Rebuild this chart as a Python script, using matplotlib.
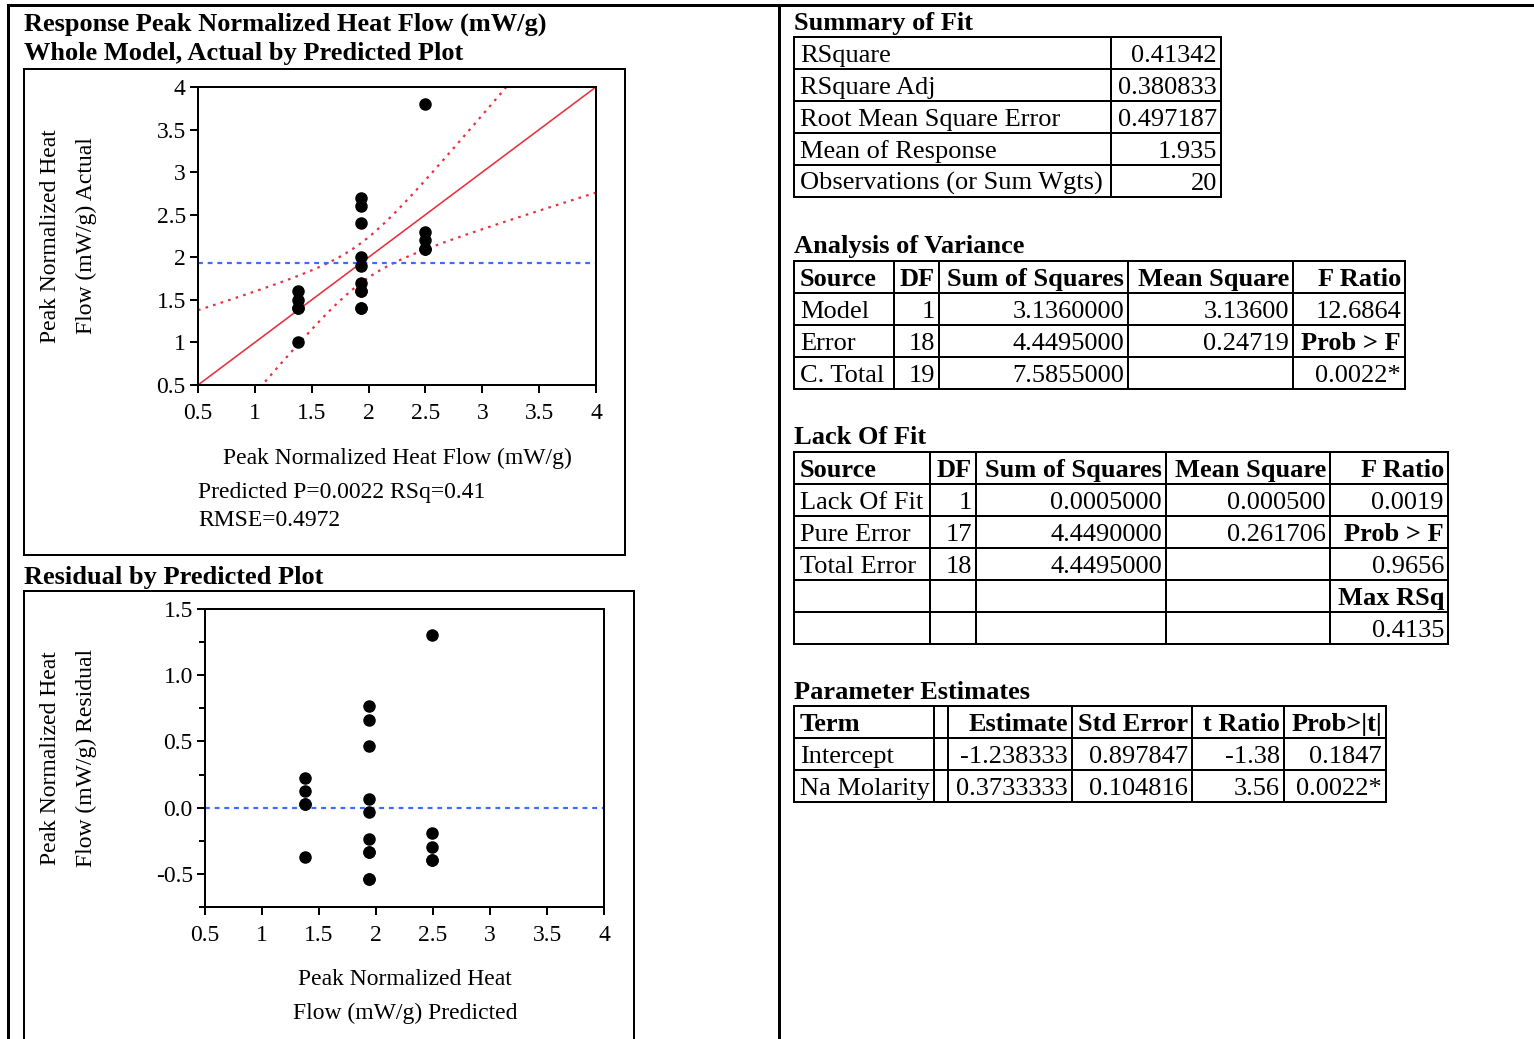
import numpy as np
import matplotlib
matplotlib.use("Agg")
import matplotlib.pyplot as plt
from matplotlib.ticker import FixedLocator, FixedFormatter

W, H = 1534, 1039
DPI = 100

plt.rcParams["font.family"] = ["Liberation Serif", "DejaVu Serif"]

# ---------------- data ----------------
na_molarity = [7, 7, 7, 7, 7,
               8.5, 8.5, 8.5, 8.5, 8.5, 8.5, 8.5, 8.5, 8.5, 8.5,
               10, 10, 10, 10, 10]
heat_flow = [1.6, 1.5, 1.4, 1.4, 1.0,
             2.7, 2.6, 2.4, 2.0, 1.9, 1.7, 1.6, 1.6, 1.4, 1.4,
             3.8, 2.3, 2.2, 2.1, 2.1]

intercept = -1.238333
slope = 0.3733333
rmse = 0.497187
mean_response = 1.935
n_obs = 20
ss_model = 3.136
t_crit = 2.100922  # t(0.975, 18)

axis_ticks = [0.5, 1, 1.5, 2, 2.5, 3, 3.5, 4]
axis_tick_labels = ["0.5", "1", "1.5", "2", "2.5", "3", "3.5", "4"]
resid_ticks = [-0.5, 0.0, 0.5, 1.0, 1.5]
resid_tick_labels = ["-0.5", "0.0", "0.5", "1.0", "1.5"]
resid_minor = [-0.75, -0.25, 0.25, 0.75, 1.25]

summary_rows = [
    ["RSquare", "0.41342"],
    ["RSquare Adj", "0.380833"],
    ["Root Mean Square Error", "0.497187"],
    ["Mean of Response", "1.935"],
    ["Observations (or Sum Wgts)", "20"],
]
anova_header = ["Source", "DF", "Sum of Squares", "Mean Square", "F Ratio"]
anova_rows = [
    ["Model", "1", "3.1360000", "3.13600", "12.6864"],
    ["Error", "18", "4.4495000", "0.24719", "Prob > F"],
    ["C. Total", "19", "7.5855000", "", "0.0022*"],
]
lof_header = ["Source", "DF", "Sum of Squares", "Mean Square", "F Ratio"]
lof_rows = [
    ["Lack Of Fit", "1", "0.0005000", "0.000500", "0.0019"],
    ["Pure Error", "17", "4.4490000", "0.261706", "Prob > F"],
    ["Total Error", "18", "4.4495000", "", "0.9656"],
    ["", "", "", "", "Max RSq"],
    ["", "", "", "", "0.4135"],
]
param_header = ["Term", "", "Estimate", "Std Error", "t Ratio", "Prob>|t|"]
param_rows = [
    ["Intercept", "", "-1.238333", "0.897847", "-1.38", "0.1847"],
    ["Na Molarity", "", "0.3733333", "0.104816", "3.56", "0.0022*"],
]
bold_cells = {"Prob > F", "Max RSq"}

# ---------------- figure ----------------
fig = plt.figure(figsize=(W / DPI, H / DPI), dpi=DPI)
bg = fig.add_axes([0, 0, 1, 1])
bg.set_xlim(0, W)
bg.set_ylim(H, 0)
bg.axis("off")

PX = 72.0 / DPI  # points per pixel
TXT = 17
TAB = 19


def hline(x0, x1, y, lw=2):
    bg.plot([x0, x1], [y, y], color="black", lw=lw * PX, solid_capstyle="projecting")


def vline(x, y0, y1, lw=2):
    bg.plot([x, x], [y0, y1], color="black", lw=lw * PX, solid_capstyle="projecting")


def box(x0, y0, x1, y1, lw=2):
    hline(x0, x1, y0, lw)
    hline(x0, x1, y1, lw)
    vline(x0, y0, y1, lw)
    vline(x1, y0, y1, lw)


def px_axes(left, top, right, bottom):
    return fig.add_axes([left / W, 1 - bottom / H, (right - left) / W, (bottom - top) / H])


# page frame
hline(8, W, 5, lw=3)
vline(8, 5, H, lw=3)
vline(779, 5, H, lw=3)

# ---------------- left column: plots ----------------
bg.text(24, 31, "Response Peak Normalized Heat Flow (mW/g)", fontsize=TAB,
        fontweight="bold", ha="left", va="baseline")
bg.text(24, 60, "Whole Model, Actual by Predicted Plot", fontsize=TAB,
        fontweight="bold", ha="left", va="baseline")
box(24, 69, 625, 555)

x = np.array(na_molarity, dtype=float)
y = np.array(heat_flow, dtype=float)
predicted = intercept + slope * x
residual = y - predicted

red = "#e8303f"
blue = "#3a6cff"


def style_axes(ax, xticks, xlabels, yticks, ylabels, yminor=None):
    for s in ax.spines.values():
        s.set_linewidth(2 * PX * 1.0)
        s.set_color("black")
    ax.xaxis.set_major_locator(FixedLocator(xticks))
    ax.xaxis.set_major_formatter(FixedFormatter(xlabels))
    ax.yaxis.set_major_locator(FixedLocator(yticks))
    ax.yaxis.set_major_formatter(FixedFormatter(ylabels))
    if yminor is not None:
        ax.yaxis.set_minor_locator(FixedLocator(yminor))
        ax.tick_params(axis="y", which="minor", length=6 * PX, width=2 * PX, direction="out")
    ax.tick_params(axis="both", which="major", length=8 * PX, width=2 * PX,
                   direction="out", labelsize=TXT)
    ax.tick_params(axis="x", pad=7)
    ax.tick_params(axis="y", pad=3)
    ax.set_facecolor("none")


# Actual by predicted
ax1 = px_axes(198, 87, 596, 385)
ax1.set_xlim(0.5, 4)
ax1.set_ylim(0.5, 4)
p = np.linspace(0.5, 4, 300)
half = t_crit * rmse * np.sqrt(1.0 / n_obs + (p - mean_response) ** 2 / ss_model)
ax1.plot(p, p, color=red, lw=1.6 * PX * 1.0, zorder=2)
ax1.plot(p, p + half, color=red, lw=2.2 * PX, ls=(0, (1.2, 2.4)), zorder=2)
ax1.plot(p, p - half, color=red, lw=2.2 * PX, ls=(0, (1.2, 2.4)), zorder=2)
ax1.axhline(mean_response, color=blue, lw=2.2 * PX, ls=(0, (2.2, 2.2)), zorder=2)
ax1.plot(predicted, y, "o", color="black", ms=8, zorder=3)
style_axes(ax1, axis_ticks, axis_tick_labels, axis_ticks, axis_tick_labels)

bg.text(51, 236, "Peak Normalized Heat", fontsize=TXT, rotation=90, ha="center", va="center")
bg.text(86, 236, "Flow (mW/g) Actual", fontsize=TXT, rotation=90, ha="center", va="center")
bg.text(397, 464, "Peak Normalized Heat Flow (mW/g)", fontsize=TXT, ha="center", va="baseline")
bg.text(198, 498, "Predicted P=0.0022 RSq=0.41", fontsize=TXT, ha="left", va="baseline")
bg.text(198, 526, "RMSE=0.4972", fontsize=TXT, ha="left", va="baseline")

# Residual by predicted
bg.text(24, 584, "Residual by Predicted Plot", fontsize=TAB, fontweight="bold",
        ha="left", va="baseline")
box(24, 591, 634, H + 10)

ax2 = px_axes(205, 609, 604, 907)
ax2.set_xlim(0.5, 4)
ax2.set_ylim(-0.75, 1.5)
ax2.axhline(0, color=blue, lw=2.2 * PX, ls=(0, (2.2, 2.2)), zorder=2)
ax2.plot(predicted, residual, "o", color="black", ms=8, zorder=3)
style_axes(ax2, axis_ticks, axis_tick_labels, resid_ticks, resid_tick_labels, resid_minor)

bg.text(51, 758, "Peak Normalized Heat", fontsize=TXT, rotation=90, ha="center", va="center")
bg.text(86, 758, "Flow (mW/g) Residual", fontsize=TXT, rotation=90, ha="center", va="center")
bg.text(405, 985, "Peak Normalized Heat", fontsize=TXT, ha="center", va="baseline")
bg.text(405, 1019, "Flow (mW/g) Predicted", fontsize=TXT, ha="center", va="baseline")

# ---------------- right column: tables ----------------
ROW_H = 32


def draw_table(x_edges, top, rows, header=None):
    all_rows = ([header] if header is not None else []) + rows
    n = len(all_rows)
    bottom = top + n * ROW_H
    for i in range(n + 1):
        hline(x_edges[0], x_edges[-1], top + i * ROW_H)
    for xe in x_edges:
        vline(xe, top, bottom)
    for i, row in enumerate(all_rows):
        base = top + (i + 0.5) * ROW_H + 9
        is_header = header is not None and i == 0
        for j, cell in enumerate(row):
            if not cell:
                continue
            weight = "bold" if (is_header or cell in bold_cells) else "normal"
            if j == 0:
                bg.text(x_edges[0] + 6, base, cell, fontsize=TAB, fontweight=weight,
                        ha="left", va="baseline")
            else:
                bg.text(x_edges[j + 1] - 4, base, cell, fontsize=TAB, fontweight=weight,
                        ha="right", va="baseline")


bg.text(794, 30, "Summary of Fit", fontsize=TAB, fontweight="bold", ha="left", va="baseline")
draw_table([794, 1111, 1221], 37, summary_rows)

bg.text(794, 253, "Analysis of Variance", fontsize=TAB, fontweight="bold", ha="left", va="baseline")
draw_table([794, 894, 939, 1128, 1293, 1405], 261, anova_rows, anova_header)

bg.text(794, 444, "Lack Of Fit", fontsize=TAB, fontweight="bold", ha="left", va="baseline")
draw_table([794, 930, 976, 1166, 1330, 1448], 452, lof_rows, lof_header)

bg.text(794, 699, "Parameter Estimates", fontsize=TAB, fontweight="bold", ha="left", va="baseline")
draw_table([794, 934, 948, 1072, 1192, 1284, 1386], 706, param_rows, param_header)

fig.savefig("out.png", dpi=DPI)
